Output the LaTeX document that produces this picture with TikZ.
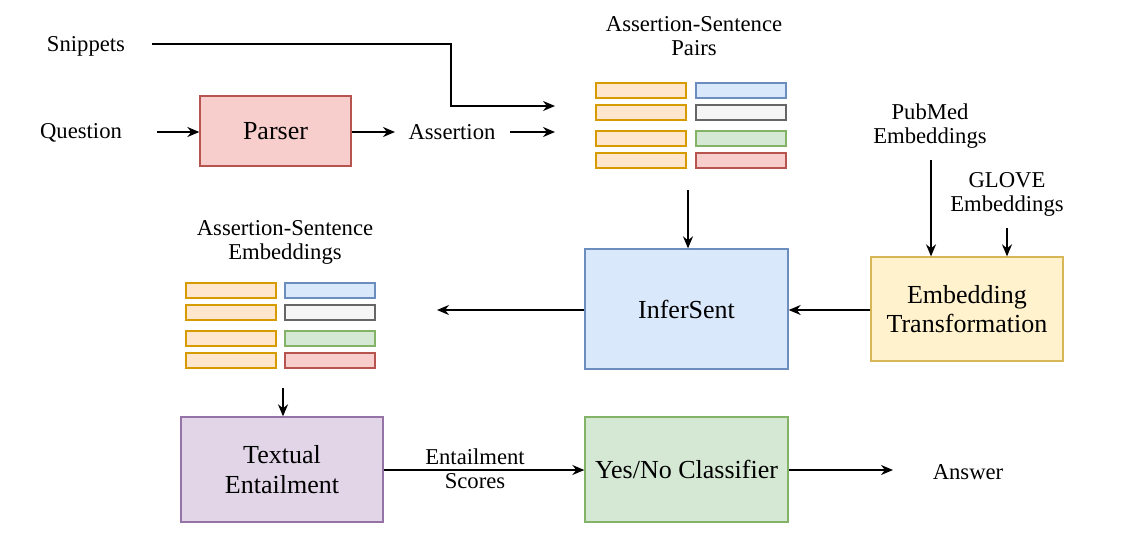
\documentclass[tikz,border=0pt]{standalone}
\usepackage{fontspec}
\setmainfont{Liberation Serif}
\usetikzlibrary{arrows.meta}
\definecolor{orF}{HTML}{FFE6CC}\definecolor{orD}{HTML}{D79B00}
\definecolor{blF}{HTML}{DAE8FC}\definecolor{blD}{HTML}{6C8EBF}
\definecolor{grF}{HTML}{F5F5F5}\definecolor{grD}{HTML}{666666}
\definecolor{gnF}{HTML}{D5E8D4}\definecolor{gnD}{HTML}{82B366}
\definecolor{rdF}{HTML}{F8CECC}\definecolor{rdD}{HTML}{B85450}
\definecolor{ylF}{HTML}{FFF2CC}\definecolor{ylD}{HTML}{D6B656}
\definecolor{puF}{HTML}{E1D5E7}\definecolor{puD}{HTML}{9673A6}
\tikzset{
  lbl/.style={font=\fontsize{17}{18}\selectfont, align=center, inner sep=0pt},
  boxt/.style={draw, line width=1pt, align=center, inner sep=0pt, font=\fontsize{19.5}{22}\selectfont},
  bar/.style={draw, line width=1.5pt, minimum width=67.5pt, minimum height=11.25pt, inner sep=0pt},
  arr/.style={line width=1.1pt, -{Stealth[length=9pt,width=7.5pt]}},
  ln/.style={line width=1.1pt}
}
\begin{document}
\begin{tikzpicture}[x=0.75pt,y=-0.75pt]
\useasboundingbox (0,0) rectangle (1127,536);
% labels
\node[lbl] (snippets) at (86,46) {Snippets};
\node[lbl] (question) at (81,133) {Question};
\node[lbl] (assertion) at (452,132) {Assertion};
\node[lbl] (pairslbl) at (694,36) {Assertion-Sentence\\Pairs};
\node[lbl] (pubmed) at (930,126) {PubMed\\Embeddings};
\node[lbl] (glove) at (1007,194) {GLOVE\\Embeddings};
\node[lbl] (embslbl) at (285,242) {Assertion-Sentence\\Embeddings};
\node[lbl] (scores) at (475,469) {Entailment\\Scores};
\node[lbl] (answer) at (968,472) {Answer};
% boxes
\node[boxt, fill=rdF, draw=rdD, minimum width=113.25pt, minimum height=52.5pt] (parser) at (275.5,131) {Parser};
\node[boxt, fill=blF, draw=blD, minimum width=152.25pt, minimum height=90pt] (infersent) at (686.5,309) {InferSent};
\node[boxt, fill=ylF, draw=ylD, minimum width=144pt, minimum height=78pt] (embt) at (967,309) {Embedding\\Transformation};
\node[boxt, fill=puF, draw=puD, minimum width=151.5pt, minimum height=78.75pt] (textual) at (282,469.5) {Textual\\Entailment};
\node[boxt, fill=gnF, draw=gnD, minimum width=152.25pt, minimum height=78.75pt] (yesno) at (686.5,469.5) {Yes/No Classifier};
% bars top
\node[bar, fill=orF, draw=orD] (pa1) at (641,90.5) {};
\node[bar, fill=orF, draw=orD] (pa2) at (641,112.5) {};
\node[bar, fill=orF, draw=orD] (pa3) at (641,138.5) {};
\node[bar, fill=orF, draw=orD] (pa4) at (641,160.5) {};
\node[bar, fill=blF, draw=blD] (pb1) at (740.5,90.5) {};
\node[bar, fill=grF, draw=grD] (pb2) at (740.5,112.5) {};
\node[bar, fill=gnF, draw=gnD] (pb3) at (740.5,138.5) {};
\node[bar, fill=rdF, draw=rdD] (pb4) at (740.5,160.5) {};
% bars lower
\node[bar, fill=orF, draw=orD] (ea1) at (230.5,290) {};
\node[bar, fill=orF, draw=orD] (ea2) at (230.5,312.5) {};
\node[bar, fill=orF, draw=orD] (ea3) at (230.5,338) {};
\node[bar, fill=orF, draw=orD] (ea4) at (230.5,360.5) {};
\node[bar, fill=blF, draw=blD] (eb1) at (329.5,290) {};
\node[bar, fill=grF, draw=grD] (eb2) at (329.5,312.5) {};
\node[bar, fill=gnF, draw=gnD] (eb3) at (329.5,338) {};
\node[bar, fill=rdF, draw=rdD] (eb4) at (329.5,360.5) {};
% coordinates
\coordinate (s0) at (152,44);
\coordinate (s1) at (555,106);
\coordinate (q0) at (157,132);
\coordinate (a0) at (395,132);
\coordinate (a1) at (510,132);
\coordinate (a2) at (555,132);
\coordinate (p0) at (688,190);
\coordinate (i0) at (437,310);
\coordinate (pm0) at (931,160);
\coordinate (gl0) at (1007,228);
\coordinate (e0) at (283,388);
\coordinate (y0) at (893,470);
% connectors
\draw[arr] (s0) -- (451,44) -- (451,106) -- (s1);
\draw[arr] (q0) -- (parser.west |- q0);
\draw[arr] (parser.east |- a0) -- (a0);
\draw[arr] (a1) -- (a2);
\draw[arr] (p0) -- (p0 |- infersent.north);
\draw[arr] (infersent.west |- i0) -- (i0);
\draw[arr] (embt.west |- i0) -- (infersent.east |- i0);
\draw[arr] (pm0) -- (pm0 |- embt.north);
\draw[arr] (gl0) -- (gl0 |- embt.north);
\draw[arr] (e0) -- (e0 |- textual.north);
\draw[arr] (textual.east |- y0) -- (yesno.west |- y0);
\draw[arr] (yesno.east |- y0) -- (y0);
\end{tikzpicture}
\end{document}
